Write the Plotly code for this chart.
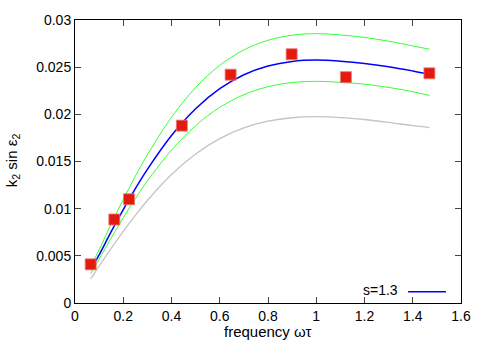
import plotly.graph_objects as go

# measured data points (red squares)
data_x = [0.065, 0.163, 0.224, 0.443, 0.645, 0.898, 1.123, 1.469]
data_y = [0.0041, 0.00885, 0.0110, 0.0188, 0.0242, 0.02637, 0.02394, 0.02435]

# model curves, values
curve_x = [0.065, 0.1, 0.15, 0.2, 0.25, 0.3, 0.4, 0.5, 0.6, 0.7, 0.8, 0.9,
           1.0, 1.1, 1.2, 1.3, 1.4, 1.47]
blue_y = [0.0035, 0.0051, 0.00756, 0.0099, 0.01212, 0.01417, 0.01776, 0.0206,
          0.02272, 0.0242, 0.02512, 0.02561, 0.02575, 0.02563, 0.0254, 0.02505,
          0.0246, 0.02425]
green_hi_y = [0.0038, 0.00565, 0.00838, 0.01098, 0.01344, 0.01571, 0.01969,
              0.02284, 0.02519, 0.02683, 0.02785, 0.02839, 0.02855, 0.02842,
              0.02815, 0.02775, 0.02725, 0.0269]
green_lo_y = [0.0031, 0.00465, 0.0069, 0.00904, 0.01106, 0.01293, 0.01621,
              0.0188, 0.02074, 0.02208, 0.02293, 0.02337, 0.0235, 0.02339,
              0.0232, 0.02285, 0.0224, 0.022]
gray_y = [0.00256, 0.00391, 0.00579, 0.0076, 0.00929, 0.01087, 0.01362,
          0.0158, 0.01743, 0.01856, 0.01927, 0.01964, 0.01975, 0.01966,
          0.01945, 0.01915, 0.0188, 0.0186]

x_ticks = [0, 0.2, 0.4, 0.6, 0.8, 1, 1.2, 1.4, 1.6]
x_ticklabels = ["0", "0.2", "0.4", "0.6", "0.8", "1", "1.2", "1.4", "1.6"]
y_ticks = [0, 0.005, 0.01, 0.015, 0.02, 0.025, 0.03]
y_ticklabels = ["0", "0.005", "0.01", "0.015", "0.02", "0.025", "0.03"]

legend_label = "s=1.3"

FONT = "Liberation Sans, Arial, Helvetica, sans-serif"

fig = go.Figure()
fig.add_trace(go.Scatter(x=curve_x, y=gray_y, mode="lines",
                         line=dict(color="#c4c4c4", width=1.3, shape="spline"),
                         showlegend=False, hoverinfo="skip"))
fig.add_trace(go.Scatter(x=curve_x, y=green_hi_y, mode="lines",
                         line=dict(color="#33ff33", width=1, shape="spline"),
                         showlegend=False))
fig.add_trace(go.Scatter(x=curve_x, y=green_lo_y, mode="lines",
                         line=dict(color="#33ff33", width=1, shape="spline"),
                         showlegend=False))
fig.add_trace(go.Scatter(x=curve_x, y=blue_y, mode="lines",
                         line=dict(color="#0000ff", width=1.5, shape="spline"),
                         name=legend_label, showlegend=False))
fig.add_trace(go.Scatter(x=data_x, y=data_y, mode="markers",
                         marker=dict(symbol="square", size=11, color="#e31a10",
                                     line=dict(color="#f07a70", width=0.8)),
                         showlegend=False))

axis_common = dict(showgrid=False, zeroline=False, showline=True,
                   linecolor="black", linewidth=1, mirror="allticks",
                   ticks="inside", ticklen=6, tickcolor="#444444",
                   tickfont=dict(family=FONT, size=14, color="black"))

fig.update_xaxes(range=[0, 1.6], tickvals=x_ticks, ticktext=x_ticklabels,
                 **axis_common)
fig.update_yaxes(range=[0, 0.03], tickvals=y_ticks, ticktext=y_ticklabels,
                 **axis_common)

fig.update_layout(
    width=485, height=346,
    margin=dict(l=75, r=24, t=16, b=43),
    paper_bgcolor="white", plot_bgcolor="white",
    font=dict(family=FONT, size=14, color="black"),
    annotations=[
        dict(text="frequency ωτ", xref="paper", yref="paper", x=0.5, y=-0.101,
             xanchor="center", yanchor="middle", showarrow=False,
             font=dict(family=FONT, size=15)),
        dict(text="k<sub>2</sub> sin ε<sub>2</sub>", xref="paper", yref="paper",
             x=-0.163, y=0.505, xanchor="center", yanchor="middle",
             textangle=-90, showarrow=False, font=dict(family=FONT, size=15)),
        dict(text=legend_label, xref="paper", yref="paper", x=0.842, y=0.045,
             xanchor="right", yanchor="middle", showarrow=False,
             font=dict(family=FONT, size=14)),
    ],
    shapes=[
        dict(type="line", xref="paper", yref="paper", x0=0.863, x1=0.961,
             y0=0.040, y1=0.040, line=dict(color="#0000ff", width=1.5)),
    ],
)

# remove the browser's default 8px body margin so the figure sits at (0, 0)
fig.write_html("out.html",
               config={"displayModeBar": False},
               post_script="document.body.style.margin='0';"
                           "document.body.style.overflow='hidden';")
